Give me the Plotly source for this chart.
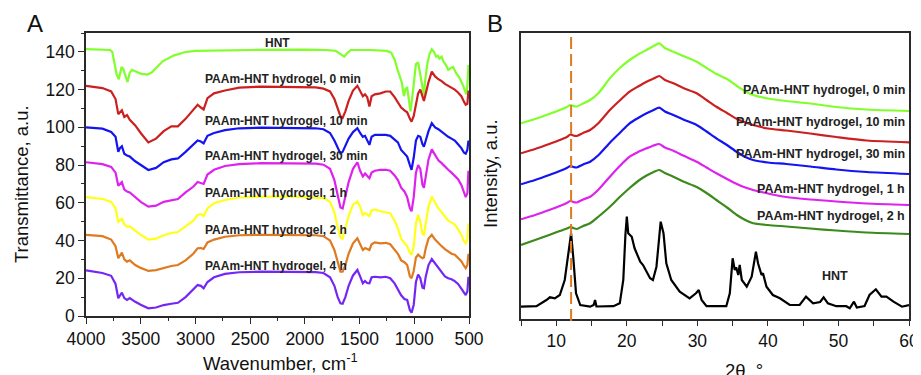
import plotly.graph_objects as go

# ---------------- Panel A: FTIR ----------------
hnt_wn = [4000, 3850, 3780, 3760, 3740, 3720, 3700, 3690, 3675, 3660, 3640, 3620, 3600, 3580, 3540, 3500,
          3440, 3400, 3350, 3300, 3200, 3100, 3000, 2800, 2500, 2000, 1800, 1720, 1680, 1640, 1610, 1580,
          1400, 1250, 1210, 1180, 1150, 1115, 1095, 1080, 1065, 1050, 1035, 1020, 1000, 985, 965, 945,
          925, 912, 900, 880, 860, 840, 820, 800, 785, 770, 750, 735, 710, 690, 665, 645, 620, 590, 560,
          540, 525, 515, 505]
hnt_ir = [141.5, 141.2, 141.0, 140.0, 134.0, 128.0, 125.5, 128.0, 132.0, 131.0, 127.0, 124.0, 129.0, 130.5,
          129.5, 128.5, 128.0, 129.0, 132.0, 135.0, 138.0, 139.8, 140.5, 140.8, 141.0, 141.2, 141.0, 140.5,
          139.0, 137.5, 139.5, 141.0, 141.0, 140.5, 139.5, 136.0, 130.0, 124.0, 116.5, 120.5, 121.0, 114.0,
          108.5, 115.0, 127.0, 133.5, 134.5, 128.0, 120.0, 117.0, 125.0, 134.0, 139.0, 141.4, 140.0, 137.5,
          138.0, 136.5, 137.5, 135.0, 133.0, 130.5, 131.5, 132.0, 129.0, 126.5, 123.0, 119.5, 117.5, 122.0,
          133.0]

wn = [4000, 3850, 3770, 3730, 3705, 3690, 3672, 3650, 3625, 3600, 3550, 3500, 3430, 3360, 3290, 3220,
      3160, 3090, 3020, 2980, 2950, 2925, 2890, 2830, 2730, 2600, 2400, 2100, 1900, 1830, 1770, 1730,
      1700, 1675, 1655, 1630, 1600, 1560, 1520, 1495, 1470, 1450, 1430, 1410, 1390, 1360, 1310, 1260,
      1220, 1180, 1150, 1120, 1090, 1065, 1040, 1025, 1005, 985, 965, 945, 925, 912, 895, 870, 840,
      810, 780, 750, 720, 690, 660, 630, 600, 570, 545, 530, 515, 505]

gel_0min = [122, 120.8, 119, 115, 107, 108, 109, 105.5, 106.5, 104, 101, 97, 92, 94, 98, 100.5,
            100.5, 104.5, 109.5, 112, 110.5, 109.5, 115.5, 118, 119.5, 121, 121.6, 121.5, 121.2, 120.5, 119, 115,
            110, 106, 105, 108.5, 114, 119.5, 122, 119, 116.5, 117.5, 116, 111, 116.5, 117.5, 118, 119,
            119, 116, 113.5, 110.5, 109, 108, 104.5, 103, 106, 113, 118, 120, 116, 114, 118, 124, 129.5,
            127, 125.5, 124.5, 123, 122, 121, 120, 118.5, 116.5, 113.5, 112, 112.5, 119.5]
gel_10min = [100, 99.3, 97.5, 95, 87, 89, 90, 86, 85, 84.5, 82, 80, 77.4, 78.5, 81.5, 83,
             83.5, 87, 90.5, 93, 92.5, 91.5, 95.5, 97, 98.5, 99.5, 99.8, 99.7, 99.5, 99, 97, 93,
             89, 86.2, 87, 90, 94, 97.5, 99.5, 97, 95, 95.5, 93, 90.7, 95, 96, 96, 96,
             95.5, 93.5, 92, 88, 86, 84.5, 80, 77.5, 84, 93, 95.5, 95, 91, 89.8, 93, 98, 102.2,
             100, 99, 97.5, 96, 95, 94, 93, 91, 89, 86.5, 86, 88, 93]
gel_30min = [81.5, 80.5, 79, 76, 69, 70, 71, 67, 66, 65.5, 63, 60.5, 58, 58.5, 60.5, 61.5,
             62, 65.5, 68.5, 71, 70.5, 70, 75, 77.5, 79.5, 80.5, 81, 81, 80.8, 80.2, 78, 72,
             64, 57.5, 57, 63, 71, 78, 81.5, 77, 74, 75.5, 74.5, 73, 76, 77, 77.5, 77.5,
             77, 74.5, 72, 68, 66, 63, 57, 55.5, 63, 76, 80, 78, 69.5, 68, 74, 83, 88.3,
             85, 82.5, 81, 79, 77.5, 76, 74.5, 72.5, 69.5, 65.5, 63, 65, 77]
gel_1h = [63, 62, 60.5, 57, 50, 50.5, 51.5, 48.5, 47.4, 47.5, 45, 43, 40.5, 41, 42.8, 44,
          44.5, 47.5, 50.5, 53.5, 54, 53, 57, 59.8, 61.5, 62.8, 63.3, 63.3, 63, 62.5, 60.5, 55,
          47, 41.5, 41, 46, 53, 59, 60.6, 58, 53.5, 54.5, 53.5, 53, 56, 56.5, 55.5, 55,
          54.5, 50.5, 46.5, 41, 38.5, 37, 33.5, 32.5, 37, 49, 53.6, 50, 43.5, 43, 49, 58, 63.3,
          60, 57, 55, 53, 50.5, 49.5, 48.5, 46, 43, 39.5, 38.5, 40.5, 49]
gel_2h = [43, 42.3, 40.5, 37, 30.6, 32, 33.6, 30, 28.8, 29.5, 27, 25.5, 23.9, 24.3, 25.5, 26.5,
          27, 29.5, 33, 35.9, 36, 35.5, 39, 40.5, 42, 42.8, 43, 43, 42.8, 42.3, 40, 35,
          28, 23.5, 23.5, 27, 33, 38.5, 41.2, 38, 35, 36, 35.5, 35, 38, 39, 38.5, 38.8,
          38, 35, 33, 29.5, 28.5, 27, 21, 20, 24, 31, 32.5, 31.5, 30.6, 31, 36, 41, 43,
          40.5, 38.5, 37, 35.5, 34, 33, 32.5, 31, 29, 26.5, 25.3, 27, 33]
gel_4h = [24.2, 22.8, 21.3, 17, 9.4, 11, 12.4, 9.5, 8.5, 9.5, 7.5, 6, 4.1, 4.5, 5.8, 6.5,
          7, 10, 14, 16.4, 16, 14.7, 18, 20.5, 22.3, 23.2, 23.5, 23.5, 23.3, 22.8, 20.5, 16,
          10, 6.7, 6.5, 10, 16, 21.5, 24.4, 21, 17.3, 18.5, 17.5, 17.3, 20.5, 20.8, 20.5, 20.8,
          20, 17.3, 14, 11, 9, 8.5, 3, 1.8, 6, 18, 22, 20, 15, 14.7, 21, 27, 30.2,
          28, 25.3, 23, 21, 20, 19.5, 18.5, 17, 14.5, 12, 11.1, 13, 20.8]

ir_names = ["HNT", "PAAm-HNT hydrogel, 0 min", "PAAm-HNT hydrogel, 10 min", "PAAm-HNT hydrogel, 30 min",
            "PAAm-HNT hydrogel, 1 h", "PAAm-HNT hydrogel, 2 h", "PAAm-HNT hydrogel, 4 h"]
ir_colors = ["#80ff2a", "#cc2020", "#1414f0", "#dd22ee", "#ffff1a", "#e07a20", "#7426f5"]
ir_series = [(hnt_wn, hnt_ir), (wn, gel_0min), (wn, gel_10min), (wn, gel_30min),
             (wn, gel_1h), (wn, gel_2h), (wn, gel_4h)]
ir_label_y = [43, 79, 121, 156, 193, 230, 266]   # label positions (pixels from top)

# ---------------- Panel B: XRD ----------------
tt = [5, 7, 9, 10.5, 11.5, 12.0, 12.4, 12.9, 13.8, 14.8, 16, 17.6, 19, 20.4, 21.6, 22.8, 23.8, 24.6,
      25.4, 26.6, 28, 29.9, 31.3, 32.7, 34.2, 35.6, 36.8, 37.9, 40, 42.6, 46, 49.7, 54, 60]
xrd_0min = [195.7, 200, 205, 209, 212, 214, 213, 212.5, 215.5, 219, 226, 240.7, 251, 259, 264.5, 269, 273, 275.7,
            271, 267.3, 263, 257.3, 251, 245, 240, 233, 227.5, 224, 220.5, 218, 215.5, 212, 209.5, 208]
xrd_10min = [165.7, 170, 175, 179, 182, 184.5, 183.5, 183, 186, 189, 196, 209, 218.5, 227.3, 232.5, 237.3, 240.5, 243,
             239, 235.7, 231, 225.7, 219, 212.3, 206, 200, 196.5, 194, 190.5, 188.5, 185.5, 182, 178.5, 176.7]
xrd_30min = [134.7, 139, 144, 148, 151, 153, 152, 151.5, 154.5, 157.3, 164, 176.3, 186, 195.7, 201, 205.7, 209, 211.3,
             207.5, 204, 199.5, 194, 187.5, 180.7, 174, 167, 162, 159, 156.5, 155, 152.5, 149.5, 147, 145]
xrd_1h = [99.7, 104, 109, 113, 116, 118, 117, 116.5, 119.5, 122.3, 129.5, 142.3, 153, 162.3, 167, 170.7, 173.5, 175,
          171.5, 168.3, 163.5, 157.3, 151.5, 145.7, 140, 135, 131.5, 129, 125.5, 122, 119.5, 117.5, 115.5, 114]
xrd_2h = [74, 79, 84, 88, 90.5, 92, 91, 90, 93, 95.7, 102.5, 112.3, 122, 131, 138, 143.5, 147, 149,
          146, 142.3, 137.5, 132, 126, 119, 111.5, 104, 99, 95.7, 94, 92.5, 90.5, 88.5, 86.5, 85]

hnt_tt = [5, 7.2, 8.6, 9.1, 9.8, 10.5, 11.2, 11.7, 12.1, 12.4, 12.8, 13.4, 14.8, 15.3, 15.5, 15.7, 18.1, 19.0,
          19.5, 19.8, 20.0, 20.2, 20.7, 21.1, 21.9, 22.3, 23.3, 23.7, 24.2, 24.6, 24.8, 25.2, 25.6, 26.3,
          27.5, 28.9, 29.8, 30.2, 30.6, 31.3, 34.1, 34.6, 35.0, 35.3, 35.5, 35.8, 36.0, 36.3, 37.0, 37.7,
          38.3, 38.6, 39.1, 39.3, 39.8, 40.7, 41.7, 43.1, 44.5, 45.4, 46.4, 47.4, 47.9, 48.5, 49.7, 51.1,
          51.6, 52.2, 52.6, 53.7, 54.4, 55.3, 56.1, 56.8, 57.8, 59.0, 60]
hnt_xrd = [12.3, 12.8, 19, 21.7, 20.7, 24, 39, 65.7, 85.7, 62.3, 25.7, 14, 12.3, 14, 19, 12.5, 12.8, 15.7,
           39, 84, 102.3, 85.7, 82.3, 70.7, 57.3, 54, 40.7, 39, 52.3, 82.3, 97.3, 85.7, 55.7, 39,
           27.3, 20.7, 25.7, 29, 19, 12.8, 12.8, 25.7, 60.7, 49, 51.7, 44, 54, 39, 32.3, 42.3,
           67.3, 55.7, 44, 45.7, 32.3, 24, 20.7, 14, 14, 22.3, 15.7, 17, 21.7, 15.7, 12.8, 12.8,
           10.7, 17.3, 11.5, 13, 24, 29.7, 22.3, 22.3, 17.3, 12.3, 14]

xrd_names = ["PAAm-HNT hydrogel, 0 min", "PAAm-HNT hydrogel, 10 min", "PAAm-HNT hydrogel, 30 min",
             "PAAm-HNT hydrogel, 1 h", "PAAm-HNT hydrogel, 2 h", "HNT"]
xrd_colors = ["#80ff2a", "#cc2020", "#1414f0", "#dd22ee", "#3c8a1c", "#000000"]
xrd_series = [(tt, xrd_0min), (tt, xrd_10min), (tt, xrd_30min), (tt, xrd_1h), (tt, xrd_2h), (hnt_tt, hnt_xrd)]
xrd_label_y = [90, 122, 154, 189, 216]

# The page body has an 8px default margin, so the figure is drawn 8px smaller
# and all pixel positions below (taken from the 921x375 window) are shifted by 8.
OFF = 8
W, H = 921 - OFF, 375 - OFF
FONT = "Arial, Liberation Sans, sans-serif"

def px(x):
    return (x - OFF) / W

def py(y):
    return 1 - (y - OFF) / H

fig = go.Figure()
for (x, y), name, c in zip(ir_series, ir_names, ir_colors):
    fig.add_trace(go.Scatter(x=x, y=y, mode="lines", name=name, line=dict(color=c, width=2.2),
                             xaxis="x", yaxis="y", showlegend=False))
for i, ((x, y), name, c) in enumerate(zip(xrd_series, xrd_names, xrd_colors)):
    line = dict(color=c, width=2.2)
    if name != "HNT":
        line.update(shape="spline", smoothing=0.7)
    fig.add_trace(go.Scatter(x=x, y=y, mode="lines", name=name, line=line,
                             xaxis="x2", yaxis="y2", showlegend=False))

axcol = "#2a2a2a"
tickfont = dict(family=FONT, size=17.5, color="#111")
common = dict(showgrid=False, zeroline=False, showline=True, linecolor=axcol, linewidth=1.5,
              mirror=True, tickcolor=axcol, tickwidth=1.3, tickfont=tickfont, automargin=False)

fig.update_layout(
    width=W, height=H, autosize=False,
    margin=dict(l=0, r=0, t=0, b=0, autoexpand=False),
    paper_bgcolor="white", plot_bgcolor="white",
    xaxis=dict(domain=[px(86), px(469)], range=[4000, 500],
               tickvals=[4000, 3500, 3000, 2500, 2000, 1500, 1000, 500],
               ticks="outside", ticklen=6, anchor="y",
               minor=dict(ticks="outside", ticklen=3.5,
                          tickvals=[3750, 3250, 2750, 2250, 1750, 1250, 750], tickcolor=axcol), **common),
    yaxis=dict(domain=[py(316), py(33)], range=[0, 150], tickmode="linear", tick0=0, dtick=20,
               ticks="outside", ticklen=6, anchor="x",
               minor=dict(ticks="outside", ticklen=3.5, tickmode="linear", tick0=0, dtick=10, tickcolor=axcol), **common),
    xaxis2=dict(domain=[px(521), px(909)], range=[5, 60], tickmode="linear", tick0=0, dtick=10,
                ticks="outside", ticklen=5, anchor="y2",
                minor=dict(ticks="outside", ticklen=5, tickmode="linear", tick0=0, dtick=5, tickcolor=axcol), **common),
    yaxis2=dict(domain=[py(319), py(32.5)], range=[0, 286.5], showticklabels=False, ticks="",
                anchor="x2", **common),
)

ann = []
# Panel letters
ann.append(dict(text="A", x=px(35), y=py(24), xref="paper", yref="paper", showarrow=False,
                font=dict(family=FONT, size=24, color="#111"), xanchor="center", yanchor="middle"))
ann.append(dict(text="B", x=px(495), y=py(24), xref="paper", yref="paper", showarrow=False,
                font=dict(family=FONT, size=24, color="#111"), xanchor="center", yanchor="middle"))
# Axis titles
tf = dict(family=FONT, size=18.5, color="#111")
ann.append(dict(text="Wavenumber, cm<sup>-1</sup>", x=px(280), y=py(362), xref="paper", yref="paper",
                showarrow=False, font=tf, xanchor="center", yanchor="middle"))
ann.append(dict(text="Transmittance, a.u.", x=px(21), y=py(184), xref="paper", yref="paper",
                showarrow=False, font=tf, textangle=-90, xanchor="center", yanchor="middle"))
ann.append(dict(text="Intensity, a.u.", x=px(490), y=py(174), xref="paper", yref="paper",
                showarrow=False, font=tf, textangle=-90, xanchor="center", yanchor="middle"))
ann.append(dict(text="2θ, °", x=px(744), y=py(358), xref="paper", yref="paper",
                showarrow=False, font=tf, xanchor="center", yanchor="top"))
# Panel A curve labels
lf = dict(family=FONT, size=12, color="#222")
ann.append(dict(text="<b>HNT</b>", x=px(277), y=py(ir_label_y[0]), xref="paper", yref="paper",
                showarrow=False, font=lf, xanchor="center", yanchor="middle"))
for name, yy in zip(ir_names[1:], ir_label_y[1:]):
    ann.append(dict(text="<b>" + name + "</b>", x=px(203), y=py(yy), xref="paper", yref="paper",
                    showarrow=False, font=lf, xanchor="left", yanchor="middle"))
# Panel B curve labels
lf2 = dict(family=FONT, size=12.5, color="#222")
for name, yy in zip(xrd_names[:5], xrd_label_y):
    ann.append(dict(text="<b>" + name + "</b>", x=px(907), y=py(yy), xref="paper", yref="paper",
                    showarrow=False, font=lf2, xanchor="right", yanchor="middle"))
ann.append(dict(text="<b>HNT</b>", x=px(835), y=py(276), xref="paper", yref="paper",
                showarrow=False, font=lf2, xanchor="center", yanchor="middle"))
fig.update_layout(annotations=ann)

# Dashed reference line at the HNT (001) reflection
fig.add_shape(type="line", xref="x2", yref="paper", x0=12.1, x1=12.1, y0=py(321), y1=py(37),
              line=dict(color="#e07b22", width=2, dash="12px,5px"))

fig.write_html("out.html")
